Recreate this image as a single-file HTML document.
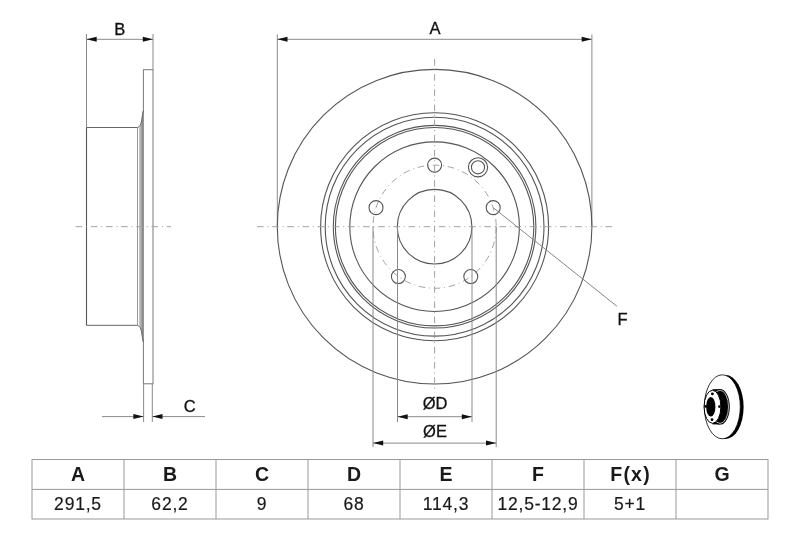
<!DOCTYPE html>
<html><head><meta charset="utf-8"><style>
html,body{margin:0;padding:0;background:#fff;width:800px;height:533px;overflow:hidden}
svg{display:block;font-family:"Liberation Sans",sans-serif;will-change:transform}
</style></head><body>
<svg width="800" height="533" viewBox="0 0 800 533">
<line x1="86.5" y1="34" x2="86.5" y2="127.5" stroke="#8a8a8a" stroke-width="1" />
<line x1="153" y1="34" x2="153" y2="69.7" stroke="#8a8a8a" stroke-width="1" />
<line x1="86.5" y1="39.3" x2="153" y2="39.3" stroke="#8a8a8a" stroke-width="1" />
<polygon points="86.5,39.3 96.7,36.8 96.7,41.8" fill="#111"/>
<polygon points="153,39.3 142.8,36.8 142.8,41.8" fill="#111"/>
<text x="119.8" y="34.5" font-size="16.5" text-anchor="middle" font-weight="normal" fill="#111" stroke="#111" stroke-width="0.3" >B</text>
<rect x="143.4" y="69.7" width="9.6" height="314.1" fill="none" stroke="#7a7a7a" stroke-width="1"/>
<path d="M86.5,127.5 V325.3" fill="none" stroke="#555" stroke-width="1.1"/>
<path d="M139.2,127.5 Q141.6,122 142.4,112 L143.4,110.5 V342.5 L142.4,341 Q141.6,331 139.2,325.3 Z" fill="#b4b4b4"/>
<path d="M141.6,124 Q142.4,118 142.8,112 L143.4,110.5 V342.5 L142.8,341 Q142.4,335 141.6,329 Z" fill="#8c8c8c"/>
<line x1="137.5" y1="127.5" x2="137.5" y2="325.3" stroke="#9a9a9a" stroke-width="1" />
<path d="M86.5,127.5 H137.5 Q140.6,126.5 141.6,121 Q142.4,115 143.4,110.5" fill="none" stroke="#666" stroke-width="1"/>
<path d="M86.5,325.3 H137.5 Q140.6,326.3 141.6,331.8 Q142.4,337.8 143.4,342.3" fill="none" stroke="#666" stroke-width="1"/>
<line x1="75.7" y1="226.7" x2="171" y2="226.7" stroke="#a2a2a2" stroke-width="1" stroke-dasharray="6.6 3.8 1.1 3.65"/>
<line x1="143.6" y1="383.8" x2="143.6" y2="422" stroke="#8a8a8a" stroke-width="1" />
<line x1="152.3" y1="383.8" x2="152.3" y2="422" stroke="#8a8a8a" stroke-width="1" />
<line x1="102" y1="416.6" x2="143.6" y2="416.6" stroke="#8a8a8a" stroke-width="1" />
<line x1="152.3" y1="416.6" x2="205" y2="416.6" stroke="#8a8a8a" stroke-width="1" />
<polygon points="143.6,416.6 133.4,414.1 133.4,419.1" fill="#111"/>
<polygon points="152.3,416.6 162.5,414.1 162.5,419.1" fill="#111"/>
<text x="189.6" y="411.9" font-size="16.5" text-anchor="middle" font-weight="normal" fill="#111" stroke="#111" stroke-width="0.3" >C</text>
<line x1="277.3" y1="34.5" x2="277.3" y2="226.7" stroke="#8a8a8a" stroke-width="1" />
<line x1="591.9000000000001" y1="34.5" x2="591.9000000000001" y2="226.7" stroke="#8a8a8a" stroke-width="1" />
<line x1="277.3" y1="39.3" x2="591.9000000000001" y2="39.3" stroke="#8a8a8a" stroke-width="1" />
<polygon points="277.3,39.3 287.5,36.8 287.5,41.8" fill="#111"/>
<polygon points="591.9000000000001,39.3 581.7,36.8 581.7,41.8" fill="#111"/>
<text x="435" y="34.4" font-size="16.5" text-anchor="middle" font-weight="normal" fill="#111" stroke="#111" stroke-width="0.3" >A</text>
<circle cx="434.6" cy="226.7" r="157.3" fill="none" stroke="#555" stroke-width="1.1"/>
<circle cx="434.6" cy="226.7" r="114" fill="none" stroke="#555" stroke-width="1.1"/>
<circle cx="434.6" cy="226.7" r="109.4" fill="none" stroke="#555" stroke-width="1.1"/>
<circle cx="434.6" cy="226.7" r="101.3" fill="none" stroke="#555" stroke-width="1.1"/>
<circle cx="434.6" cy="226.7" r="99.2" fill="none" stroke="#555" stroke-width="1.1"/>
<circle cx="434.6" cy="226.7" r="84.8" fill="none" stroke="#555" stroke-width="1.1"/>
<circle cx="434.6" cy="226.7" r="37.3" fill="none" stroke="#555" stroke-width="1.1"/>
<circle cx="434.6" cy="226.7" r="61.6" fill="none" stroke="#a2a2a2" stroke-width="1" stroke-dasharray="6.6 3.8 1.1 3.65"/>
<circle cx="434.60" cy="165.10" r="7" fill="none" stroke="#555" stroke-width="1.1"/>
<circle cx="493.19" cy="207.66" r="7" fill="none" stroke="#555" stroke-width="1.1"/>
<circle cx="470.81" cy="276.54" r="7" fill="none" stroke="#555" stroke-width="1.1"/>
<circle cx="398.39" cy="276.54" r="7" fill="none" stroke="#555" stroke-width="1.1"/>
<circle cx="376.01" cy="207.66" r="7" fill="none" stroke="#555" stroke-width="1.1"/>
<circle cx="478" cy="167.3" r="9.6" fill="none" stroke="#555" stroke-width="1.1"/>
<circle cx="478" cy="167.3" r="6.6" fill="none" stroke="#555" stroke-width="1.1"/>
<line x1="257" y1="226.7" x2="612" y2="226.7" stroke="#a2a2a2" stroke-width="1" stroke-dasharray="6.6 3.8 1.1 3.65"/>
<line x1="434.6" y1="59" x2="434.6" y2="392.6" stroke="#a2a2a2" stroke-width="1" stroke-dasharray="6.6 3.8 1.1 3.65"/>
<line x1="397.5" y1="226.7" x2="397.5" y2="422" stroke="#8a8a8a" stroke-width="1" />
<line x1="472" y1="226.7" x2="472" y2="422" stroke="#8a8a8a" stroke-width="1" />
<line x1="397.5" y1="416.7" x2="472" y2="416.7" stroke="#8a8a8a" stroke-width="1" />
<polygon points="397.5,416.7 407.7,414.2 407.7,419.2" fill="#111"/>
<polygon points="472,416.7 461.8,414.2 461.8,419.2" fill="#111"/>
<text x="435" y="409.4" font-size="16.5" text-anchor="middle" font-weight="normal" fill="#111" stroke="#111" stroke-width="0.3" >ØD</text>
<line x1="373" y1="226.7" x2="373" y2="447" stroke="#8a8a8a" stroke-width="1" />
<line x1="496.2" y1="226.7" x2="496.2" y2="447" stroke="#8a8a8a" stroke-width="1" />
<line x1="373" y1="443.1" x2="496.2" y2="443.1" stroke="#8a8a8a" stroke-width="1" />
<polygon points="373,443.1 383.2,440.6 383.2,445.6" fill="#111"/>
<polygon points="496.2,443.1 486.0,440.6 486.0,445.6" fill="#111"/>
<text x="435" y="436.6" font-size="16.5" text-anchor="middle" font-weight="normal" fill="#111" stroke="#111" stroke-width="0.3" >ØE</text>
<line x1="493.19" y1="207.66" x2="617" y2="306.3" stroke="#888" stroke-width="1" />
<text x="617.5" y="325" font-size="16.5" text-anchor="start" font-weight="normal" fill="#111" stroke="#111" stroke-width="0.3" >F</text>
<g>
<ellipse cx="725.6" cy="407" rx="18" ry="32" fill="#000"/>
<ellipse cx="722.3" cy="406.8" rx="18" ry="32" fill="#fff" stroke="#000" stroke-width="0.8"/>
<ellipse cx="720" cy="406.8" rx="9.8" ry="17.8" fill="#000"/>
<rect x="712.5" y="389.2" width="7.5" height="35.2" fill="#000"/>
<ellipse cx="720" cy="406.8" rx="8.5" ry="16.6" fill="none" stroke="#fff" stroke-width="0.7"/>
<ellipse cx="712.5" cy="406.8" rx="8.4" ry="16.5" fill="#fff" stroke="#000" stroke-width="1"/>
<ellipse cx="710.8" cy="406.8" rx="4.6" ry="9.8" fill="#000"/>
<circle cx="712.4" cy="393.9" r="1.4" fill="#000"/>
<circle cx="705.6" cy="406.4" r="1.4" fill="#000"/>
<circle cx="719.4" cy="406.6" r="1.4" fill="#000"/>
<circle cx="712" cy="419.7" r="1.4" fill="#000"/>
</g>
<rect x="32" y="459.5" width="736" height="59.5" fill="none" stroke="#999" stroke-width="1"/>
<line x1="32" y1="489.4" x2="768" y2="489.4" stroke="#999" stroke-width="1"/>
<line x1="124" y1="459.5" x2="124" y2="519" stroke="#999" stroke-width="1"/>
<line x1="216" y1="459.5" x2="216" y2="519" stroke="#999" stroke-width="1"/>
<line x1="308" y1="459.5" x2="308" y2="519" stroke="#999" stroke-width="1"/>
<line x1="400" y1="459.5" x2="400" y2="519" stroke="#999" stroke-width="1"/>
<line x1="492" y1="459.5" x2="492" y2="519" stroke="#999" stroke-width="1"/>
<line x1="584" y1="459.5" x2="584" y2="519" stroke="#999" stroke-width="1"/>
<line x1="676" y1="459.5" x2="676" y2="519" stroke="#999" stroke-width="1"/>
<text x="78.0" y="481.2" font-size="19.5" font-weight="bold" text-anchor="middle" fill="#1a1a1a" letter-spacing="0">A</text>
<text x="78.0" y="510.2" font-size="17.5" text-anchor="middle" fill="#1a1a1a" stroke="#1a1a1a" stroke-width="0.2" letter-spacing="0.8">291,5</text>
<text x="170.0" y="481.2" font-size="19.5" font-weight="bold" text-anchor="middle" fill="#1a1a1a" letter-spacing="0">B</text>
<text x="170.0" y="510.2" font-size="17.5" text-anchor="middle" fill="#1a1a1a" stroke="#1a1a1a" stroke-width="0.2" letter-spacing="0.8">62,2</text>
<text x="262.0" y="481.2" font-size="19.5" font-weight="bold" text-anchor="middle" fill="#1a1a1a" letter-spacing="0">C</text>
<text x="262.0" y="510.2" font-size="17.5" text-anchor="middle" fill="#1a1a1a" stroke="#1a1a1a" stroke-width="0.2" letter-spacing="0.8">9</text>
<text x="354.0" y="481.2" font-size="19.5" font-weight="bold" text-anchor="middle" fill="#1a1a1a" letter-spacing="0">D</text>
<text x="354.0" y="510.2" font-size="17.5" text-anchor="middle" fill="#1a1a1a" stroke="#1a1a1a" stroke-width="0.2" letter-spacing="0.8">68</text>
<text x="446.0" y="481.2" font-size="19.5" font-weight="bold" text-anchor="middle" fill="#1a1a1a" letter-spacing="0">E</text>
<text x="446.0" y="510.2" font-size="17.5" text-anchor="middle" fill="#1a1a1a" stroke="#1a1a1a" stroke-width="0.2" letter-spacing="0.8">114,3</text>
<text x="538.0" y="481.2" font-size="19.5" font-weight="bold" text-anchor="middle" fill="#1a1a1a" letter-spacing="0">F</text>
<text x="538.0" y="510.2" font-size="17.5" text-anchor="middle" fill="#1a1a1a" stroke="#1a1a1a" stroke-width="0.2" letter-spacing="0.8">12,5-12,9</text>
<text x="630.6" y="481.2" font-size="19.5" font-weight="bold" text-anchor="middle" fill="#1a1a1a" letter-spacing="1.2">F(x)</text>
<text x="630.0" y="510.2" font-size="17.5" text-anchor="middle" fill="#1a1a1a" stroke="#1a1a1a" stroke-width="0.2" letter-spacing="0.8">5+1</text>
<text x="722.0" y="481.2" font-size="19.5" font-weight="bold" text-anchor="middle" fill="#1a1a1a" letter-spacing="0">G</text>
</svg>
</body></html>
